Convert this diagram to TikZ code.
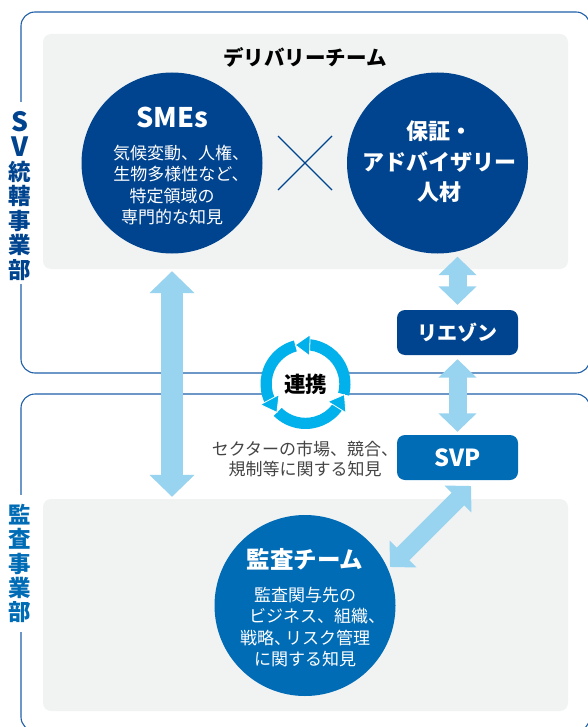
\documentclass[tikz,border=0pt]{standalone}
\usepackage{fontspec}
\setmainfont{Noto Sans CJK JP}
\usetikzlibrary{arrows.meta}

\definecolor{navyblue}{HTML}{00448F}
\definecolor{midblue}{HTML}{006CB6}
\definecolor{linkblue}{HTML}{98D3F0}
\definecolor{cycleblue}{HTML}{00B1EB}
\definecolor{panelgray}{HTML}{F1F3F3}
\definecolor{framelineblue}{HTML}{1F5FA8}
\definecolor{notegray}{HTML}{444444}

\tikzset{
  panel/.style={fill=panelgray,rounded corners=8,minimum width=525,minimum height=#1,inner sep=0},
  team/.style={circle,fill=#1,minimum size=181,inner sep=0},
  rolebox/.style={fill=#1,rounded corners=8,minimum width=121,minimum height=45,inner sep=0,text=white,font=\fontsize{20}{20}\selectfont\bfseries},
  frameline/.style={framelineblue,line width=1.1},
  sidelabel/.style={fill=white,text=#1,align=center,inner sep=0,minimum width=24,font=\fontsize{22.5}{24.4}\selectfont\bfseries},
  bigarrow/.style={linkblue,line width=22,{Triangle[length=22,width=44]}-{Triangle[length=22,width=44]}},
  smallarrow/.style={linkblue,line width=18,{Triangle[length=18.4,width=37]}-{Triangle[length=18.4,width=37]}},
  whitetext/.style={text=white,align=center,inner sep=0,font=\fontsize{#1}{21.4}\selectfont},
}

\begin{document}
\begin{tikzpicture}[x=1pt,y=-1pt]

\useasboundingbox (0,0) rectangle (588,727);
\clip (0,0) rectangle (588,727);

\node [panel=235] (delivery) at (305.5,151.5) {};
\node [panel=212] (auditpanel) at (305.5,605) {};

\draw [frameline,rounded corners=14] (21,12) rectangle (590,373);
\draw [frameline,rounded corners=14] (21,394) rectangle (590,731);

\node [sidelabel=navyblue,minimum height=182] (svlabel) at (20,193) {\rule{0pt}{26pt}\fontsize{26.5}{24.4}\selectfont S\\\fontsize{26.5}{24.4}\selectfont V\\統\\轄\\事\\業\\部};
\node [sidelabel=midblue,minimum height=137] (auditlabel) at (20,563.5) {監\\査\\事\\業\\部};

\node [font=\fontsize{20.5}{20.5}\selectfont\bfseries] (deliverytitle) at (305,57) {デリバリーチーム};

\node [team=navyblue] (smes) at (172,163) {};
\node [team=navyblue] (assurance) at (437.5,163) {};
\node [team=midblue] (auditteam) at (305,605.5) {};

\node [whitetext=23,font=\fontsize{27}{27}\selectfont\bfseries] (smestitle) at (172,117) {SMEs};
\node [whitetext=17] (smestext) at (172,185) {\hspace*{18pt}気候変動、人権、\\\hspace*{18pt}生物多様性など、\\特定領域の\\専門的な知見};

\node [whitetext=22,font=\fontsize{22}{30.5}\selectfont\bfseries] (assurancetext) at (439,162) {保証・\\アドバイザリー\\人材};

\node [whitetext=23,font=\fontsize{23.5}{23.5}\selectfont\bfseries] (audittitle) at (305,559) {監査チーム};
\node [whitetext=17] (audittext) at (305,627) {監査関与先の\\\hspace*{24pt}ビジネス、組織、\\戦略、\kern-6pt リスク管理\\に関する知見};

\draw [navyblue,line width=1.2] (278,136) -- (332,190);
\draw [navyblue,line width=1.2] (278,190) -- (332,136);

\node [rolebox=navyblue] (liaison) at (457.5,332.5) {リエゾン};
\node [rolebox=midblue,font=\fontsize{23.5}{23.5}\selectfont\bfseries] (svp) at (457.5,457.5) {SVP};

\coordinate (svpcorner) at (471,486);
\coordinate (teamcorner) at (390,567);

\draw [bigarrow,shorten <=17.5,shorten >=2] (smes.south) -- (smes.south |- auditpanel.north);
\draw [smallarrow,shorten <=3,shorten >=5] (liaison.north |- assurance.south) -- (liaison.north);
\draw [smallarrow,shorten <=4,shorten >=3] (liaison.south) -- (svp.north);
\draw [smallarrow] (svpcorner) -- (teamcorner);

\node [circle,fill=white,minimum size=80,inner sep=0,font=\fontsize{21.5}{21.5}\selectfont\bfseries] (renkei) at (305.5,384) {連携};

\begin{scope}[shift={(305.5,384)},y=1pt]
\foreach \a in {0,120,240} {
  \fill [cycleblue,rotate=\a] (-15:33.8) arc (-15:84:33.8) -- (84:45) arc (84:-15:45) -- cycle;
}
\foreach \a in {0,120,240} {
  \draw [white,fill=cycleblue,line width=0.8,rotate=\a] (104.8:40.3) -- (84.6:49.5) -- (82:28.6) -- cycle;
}
\end{scope}

\node [text=notegray,align=center,inner sep=0,font=\fontsize{17}{20.3}\selectfont] (sectornote) at (305,459) {セクターの市場、競合、\\規制等に関する知見};

\end{tikzpicture}
\end{document}
